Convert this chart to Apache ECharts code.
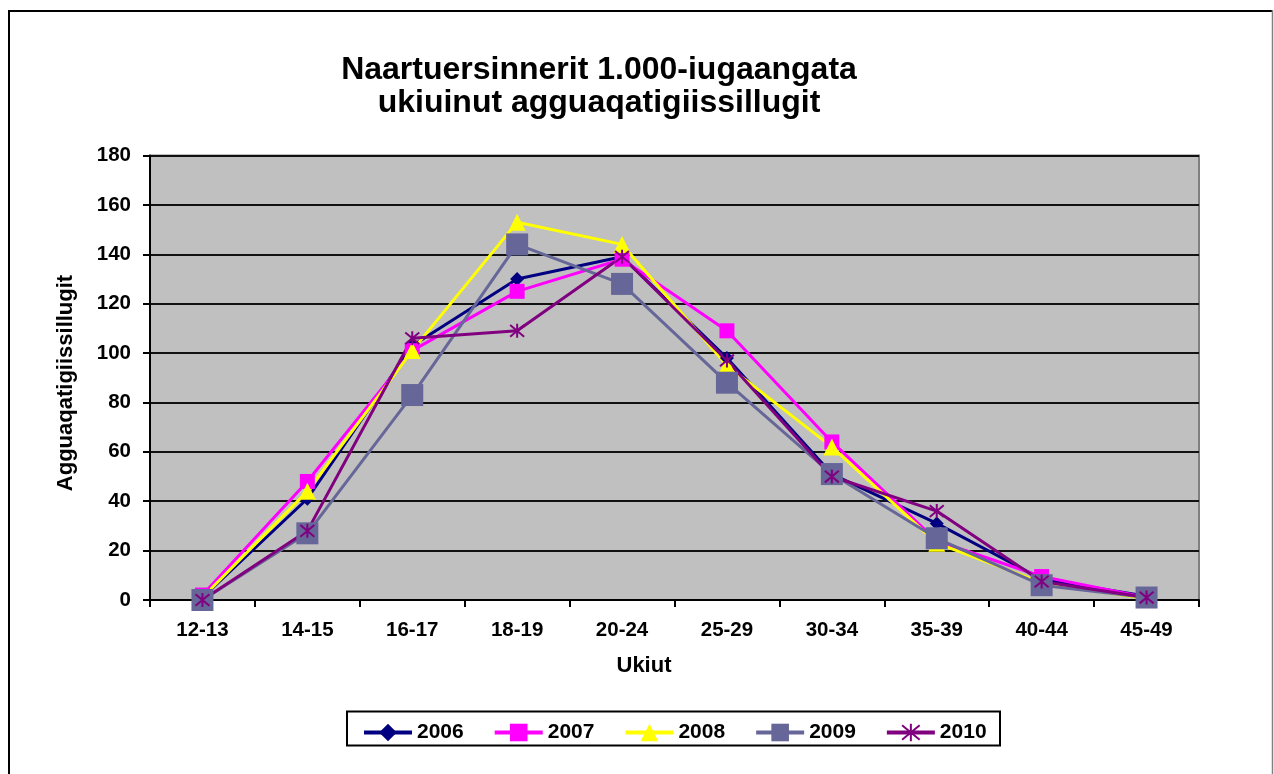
<!DOCTYPE html>
<html><head><meta charset="utf-8">
<script src="https://cdn.jsdelivr.net/npm/echarts@6/dist/echarts.min.js"></script>
<style>html,body{margin:0;padding:0;background:#fff}#c{width:1274px;height:774px}</style>
</head><body><div id="c"></div>
<script>
const categories = ['12-13','14-15','16-17','18-19','20-24','25-29','30-34','35-39','40-44','45-49'];
const s2006 = [1, 41, 103, 130, 139, 98, 51, 31, 8.5, 1.5];
const s2007 = [2, 48, 101, 125, 138, 109, 64, 24, 9.5, 1];
const s2008 = [1, 44, 101, 153, 144, 95, 62, 23, 7, 0.5];
const s2009 = [0, 27, 83, 144, 128, 88, 51, 25, 6, 1];
const s2010 = [0, 28, 106, 109, 139, 97, 50, 36, 7.5, 1];
const yTicks = [0, 20, 40, 60, 80, 100, 120, 140, 160, 180];
const titleLines = ['Naartuersinnerit 1.000-iugaangata', 'ukiuinut agguaqatigiissillugit'];

const FONT = '"Liberation Sans", Arial, sans-serif';
const star = 'path://M0,0 L10,10 M10,0 L0,10 M5,-1 L5,11';
const chart = echarts.init(document.getElementById('c'));
function ser(name, data, color, symbol, size, extra) {
  return Object.assign({
    name, type: 'line', data, symbol, symbolSize: size,
    lineStyle: { color, width: 3 },
    itemStyle: { color },
    animation: false
  }, extra || {});
}
chart.setOption({
  animation: false,
  backgroundColor: '#fff',
  title: [
    { text: titleLines[0], left: 594, top: 49, textAlign: 'center',
      textStyle: { fontFamily: FONT, fontWeight: 'bold', fontSize: 32, color: '#000' } },
    { text: titleLines[1], left: 594, top: 82, textAlign: 'center',
      textStyle: { fontFamily: FONT, fontWeight: 'bold', fontSize: 32, color: '#000' } }
  ],
  grid: { left: 150, top: 155.5, right: 75, bottom: 174, show: true,
    backgroundColor: '#C0C0C0', borderColor: '#808080', borderWidth: 2 },
  xAxis: {
    type: 'category', data: categories, boundaryGap: true,
    axisLine: { lineStyle: { color: '#000', width: 2 } },
    axisTick: { show: true, length: 7, lineStyle: { color: '#000', width: 2 } },
    axisLabel: { fontFamily: FONT, fontWeight: 'bold', fontSize: 20.5, color: '#000', margin: 20 }
  },
  yAxis: {
    type: 'value', min: yTicks[0], max: yTicks[yTicks.length - 1], interval: 20,
    axisLine: { show: true, lineStyle: { color: '#000', width: 2 } },
    axisTick: { show: true, length: 7, lineStyle: { color: '#000', width: 2 } },
    axisLabel: { fontFamily: FONT, fontWeight: 'bold', fontSize: 20.5, color: '#000', margin: 19 },
    splitLine: { show: true, lineStyle: { color: '#111', width: 2 } }
  },
  legend: {
    left: 357, top: 717, itemWidth: 48, itemHeight: 22, itemGap: 29,
    lineStyle: { width: 4 },
    textStyle: { fontFamily: FONT, fontWeight: 'bold', fontSize: 21, color: '#000' },
    data: ['2006', '2007', '2008', '2009', '2010']
  },
  graphic: [
    { type: 'line', shape: { x1: 9, y1: 10, x2: 9, y2: 780 }, style: { stroke: '#000', lineWidth: 2 } },
    { type: 'line', shape: { x1: 8, y1: 11, x2: 1272, y2: 11 }, style: { stroke: '#000', lineWidth: 2 } },
    { type: 'line', shape: { x1: 1272.5, y1: 10, x2: 1272.5, y2: 780 }, style: { stroke: '#808080', lineWidth: 1.5 } },
    { type: 'rect', shape: { x: 347, y: 711.5, width: 653, height: 34 }, style: { fill: 'none', stroke: '#000', lineWidth: 2 } },
    { type: 'text', x: 644, y: 666, style: { text: 'Ukiut', fontFamily: FONT, fontWeight: 'bold', fontSize: 22,
      fill: '#000', textAlign: 'center', textVerticalAlign: 'middle' } },
    { type: 'text', x: 66, y: 383, rotation: Math.PI / 2, style: { text: 'Agguaqatigiissillugit', fontFamily: FONT,
      fontWeight: 'bold', fontSize: 22, fill: '#000', textAlign: 'center', textVerticalAlign: 'middle' } }
  ],
  series: [
    ser('2006', s2006, '#000080', 'diamond', 14),
    ser('2007', s2007, '#FF00FF', 'rect', 15),
    ser('2008', s2008, '#FFFF00', 'triangle', 17),
    ser('2009', s2009, '#666699', 'rect', 22, { lineStyle: { color: '#666699', width: 3 } }),
    ser('2010', s2010, '#800080', star, 14, {
      itemStyle: { color: 'rgba(0,0,0,0)', borderColor: '#800080', borderWidth: 2 },
      lineStyle: { color: '#800080', width: 3 } })
  ]
});
</script></body></html>
